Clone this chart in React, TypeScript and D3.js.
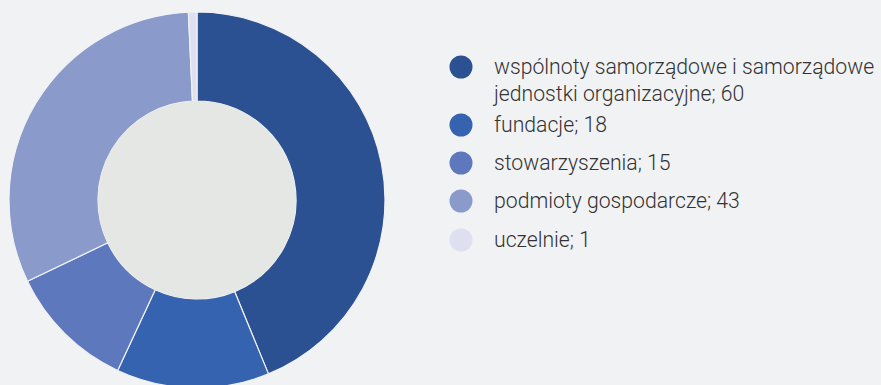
import React from "react";
import * as d3 from "d3";

const W = 881;
const H = 385;

const categories = [
  "wspólnoty samorządowe i samorządowe jednostki organizacyjne",
  "fundacje",
  "stowarzyszenia",
  "podmioty gospodarcze",
  "uczelnie",
];
const values = [60, 18, 15, 43, 1];
const colors = ["#2b5192", "#3563b0", "#5d78bd", "#8a9bcb", "#dfe0ef"];

// legend rows: the first label wraps onto two lines
const legendLines = [
  ["wspólnoty samorządowe i samorządowe", "jednostki organizacyjne; 60"],
  ["fundacje; 18"],
  ["stowarzyszenia; 15"],
  ["podmioty gospodarcze; 43"],
  ["uczelnie; 1"],
];

export default function App() {
  const cx = 197;
  const cy = 200;
  const outerR = 188;
  const innerR = 99;

  const pie = d3
    .pie<number>()
    .sort(null)
    .value((d) => d);
  const arcs = pie(values);
  const arcGen = d3
    .arc<d3.PieArcDatum<number>>()
    .innerRadius(innerR)
    .outerRadius(outerR);

  const legendX = 461;
  const textX = 494;
  const rowY = [67, 125, 163, 201, 240];

  return (
    <svg
      width={W}
      height={H}
      style={{ position: "absolute", left: 0, top: 0, display: "block" }}
      fontFamily="Roboto, 'Noto Sans', sans-serif"
    >
      <rect x={0} y={0} width={W} height={H} fill="#f1f2f4" />
      <g transform={`translate(${cx},${cy})`}>
        {arcs.map((a, i) => (
          <path
            key={categories[i]}
            d={arcGen(a) || ""}
            fill={colors[i]}
            stroke="#f1f2f4"
            strokeWidth={1.2}
          />
        ))}
        <circle r={innerR} fill="#e5e7e5" />
      </g>
      <g>
        {legendLines.map((lines, i) => (
          <g key={categories[i]}>
            <circle cx={legendX} cy={rowY[i]} r={11.5} fill={colors[i]} />
            {lines.map((ln, j) => (
              <text
                key={j}
                x={textX}
                y={rowY[i] + j * 27}
                dy="0.35em"
                fontSize={21.2}
                fontWeight={300}
                fill="#333333"
              >
                {ln}
              </text>
            ))}
          </g>
        ))}
      </g>
    </svg>
  );
}
